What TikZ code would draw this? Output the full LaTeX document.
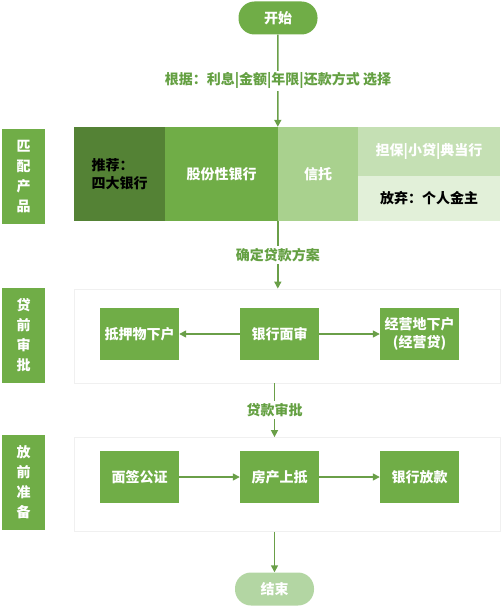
\documentclass[tikz,border=0pt]{standalone}
\usepackage{fontspec}
\setmainfont{Noto Sans CJK SC}
\usetikzlibrary{arrows.meta, positioning}
\definecolor{grnmid}{HTML}{70AD47}
\definecolor{grndark}{HTML}{548235}
\definecolor{grnlight}{HTML}{A9D18E}
\definecolor{grnpale}{HTML}{C5E0B4}
\definecolor{grnfaint}{HTML}{E2F0D9}
\definecolor{grnend}{HTML}{B3D6A3}
\definecolor{lblgrn}{HTML}{64A042}
\definecolor{arrowgrn}{HTML}{6A9F48}
\definecolor{framegray}{HTML}{F0F0F0}

\begin{document}
\begin{tikzpicture}[x=1pt,y=1pt,yscale=-1,xscale=1,
    every node/.style={font=\bfseries\fontsize{14}{17}\selectfont},
    seg/.style={inner sep=0pt, text=white, align=center},
    stepbox/.style={fill=grnmid, minimum width=79pt, minimum height=52pt, inner sep=0pt, text=white, align=center, font=\bfseries\fontsize{14}{18}\selectfont},
    sidebox/.style={fill=grnmid, minimum width=43pt, minimum height=95pt, inner sep=0pt, text=white, align=center, font=\bfseries\fontsize{14}{20}\selectfont},
    frame/.style={draw=framegray, line width=0.8pt, minimum width=426pt, minimum height=94pt, inner sep=0pt},
    pill/.style={rounded corners=16pt, minimum width=79pt, minimum height=33pt, inner sep=0pt, text=white},
    flow/.style={draw=arrowgrn, line width=1.5pt, -{Triangle[length=7pt,width=7pt]}},
    link/.style={fill=white, text=lblgrn, inner sep=2pt}
  ]
    \useasboundingbox (0,0) rectangle (500,609);

    % Start / end
    \node [pill, fill=grnmid] (start) at (278,18) {开始};
    \node [pill, fill=grnend] (finish) at (274.5,589) {结束};

    % Side labels
    \node [sidebox] (sidematch) at (23.5,176.5) {匹\\配\\产\\品};
    \node [sidebox] (sidecheck) at (23.5,335.5) {贷\\前\\审\\批};
    \node [sidebox] (sideprep) at (23.5,482.5) {放\\前\\准\\备};

    % Product band
    \node [seg, fill=grndark, minimum width=91pt, minimum height=94pt, text=black, align=left, font=\bfseries\fontsize{14}{18}\selectfont] (bigfour) at (119.5,174) {推荐：\\四大银行};
    \node [seg, fill=grnmid, minimum width=113pt, minimum height=94pt] (sharebank) at (221.5,174) {股份性银行};
    \node [seg, fill=grnlight, minimum width=80pt, minimum height=94pt] (trust) at (318,174) {信托};
    \node [seg, fill=grnpale, minimum width=142pt, minimum height=49pt] (guarantee) at (429,151.5) {担保|小贷|典当行};
    \node [seg, fill=grnfaint, minimum width=142pt, minimum height=45pt, text=black] (giveup) at (429,198.5) {放弃：个人金主};

    % Frames
    \node [frame] (framecheck) at (287,336) {};
    \node [frame] (frameprep) at (287,484.5) {};

    % Pre-loan check
    \node [stepbox] (collateral) at (139.5,334) {抵押物下户};
    \node [stepbox] (interview) at (279.5,334) {银行面审};
    \node [stepbox] (business) at (419.5,334) {经营地下户\\(经营贷)};

    % Pre-release
    \node [stepbox] (notary) at (139.5,477) {面签公证};
    \node [stepbox] (mortgage) at (279.5,477) {房产上抵};
    \node [stepbox] (release) at (419.5,477) {银行放款};

    % Connectors
    \draw [flow] (start) -- node [link] {根据：利息|金额|年限|还款方式 选择} (trust.north west);
    \draw [flow] (trust.south west) -- node [link] {确定贷款方案} (trust.south west |- framecheck.north);
    \draw [flow] (interview) -- (collateral);
    \draw [flow] (interview) -- (business);
    \draw [flow] (framecheck.south -| finish) -- node [link] {贷款审批} (frameprep.north -| finish);
    \draw [flow] (notary) -- (mortgage);
    \draw [flow] (mortgage) -- (release);
    \draw [flow] (frameprep.south -| finish) -- (finish);

\end{tikzpicture}
\end{document}
